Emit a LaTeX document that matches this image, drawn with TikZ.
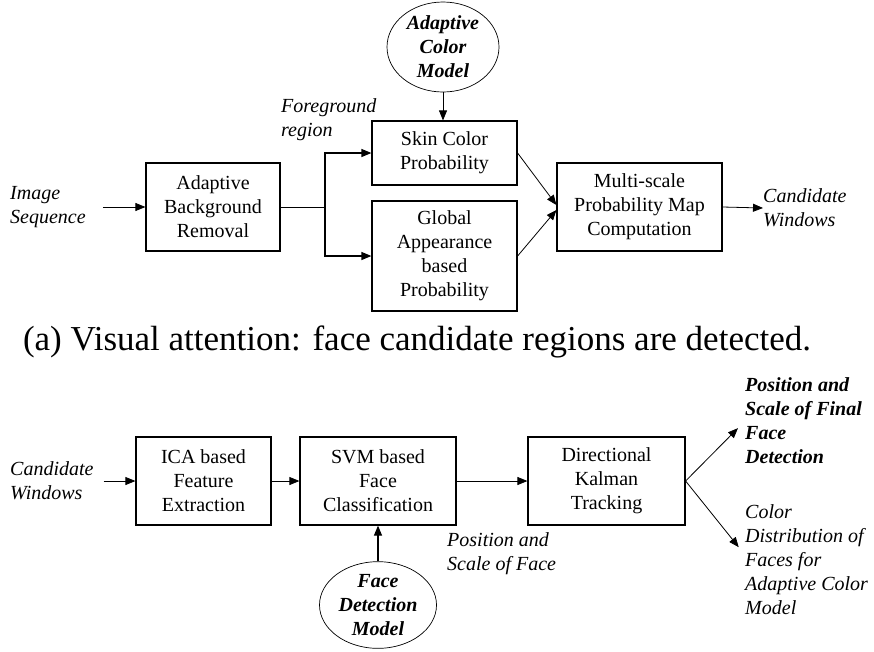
\documentclass[tikz,border=0pt]{standalone}
\usepackage{fontspec}
\setmainfont{Liberation Serif}
\usepackage{tikz}
\usetikzlibrary{arrows.meta}
\usetikzlibrary{positioning}
\usetikzlibrary{shapes.geometric}

\begin{document}
\begin{tikzpicture}[x=1pt, y=-1pt, >={Triangle[length=10pt, width=8pt]},
  font=\fontsize{20}{24}\selectfont,
  block/.style={draw, line width=1.2pt, align=center, inner sep=0pt},
  model/.style={draw, ellipse, line width=0.7pt, align=center, inner sep=0pt,
    font=\fontsize{20}{24}\selectfont\bfseries\itshape},
  lbl/.style={align=left, inner sep=0pt, anchor=west, font=\fontsize{20}{24}\selectfont\itshape},
  arr/.style={->, line width=0.8pt}]

\useasboundingbox (0,0) rectangle (874,651);

% (a) visual attention
\node [block, minimum width=134pt, minimum height=88pt] (bgr) at (213,207) {Adaptive\\Background\\Removal};
\node [block, minimum width=145pt, minimum height=64pt] (skin) at (444.5,153) {Skin Color\\Probability};
\node [block, minimum width=145pt, minimum height=110pt] (glob) at (444.5,256) {Global\\Appearance\\based\\Probability};
\node [block, minimum width=165pt, minimum height=88pt] (msp) at (639.5,207) {Multi-scale\\Probability Map\\Computation};
\node [model, minimum width=112pt, minimum height=90pt] (acm) at (443,47) {Adaptive\\Color\\Model};

\node [lbl] (imgseq) at (10,207) {Image\\Sequence};
\node [lbl] (fgr) at (281,120) {Foreground\\region};
\node [lbl] (cwout) at (763,208) {Candidate\\Windows};
\coordinate (fork) at (325,207);

\draw [arr] ([xshift=17pt]imgseq.east) -- (bgr.west);
\draw [line width=0.8pt] (bgr.east) -- (fork);
\draw [arr, line width=1.2pt] (fork) |- (skin.west);
\draw [arr, line width=1.2pt] (fork) |- (glob.west);
\draw [arr] (acm.south) -- (acm.south |- skin.north);
\draw [arr] (skin.east) -- ([yshift=2pt]msp.west);
\draw [arr] (glob.east) -- ([yshift=-3pt]msp.west);
\draw [arr] (msp.east) -- (cwout.west);

\node [font=\fontsize{35}{40}\selectfont] (capa) at (417,342) {(a) Visual attention: face candidate regions are detected.};

% tracking
\node [block, minimum width=135pt, minimum height=88pt] (ica) at (203.5,481) {ICA based\\Feature\\Extraction};
\node [block, minimum width=156pt, minimum height=88pt] (svm) at (378,481) {SVM based\\Face\\Classification};
\node [block, minimum width=157pt, minimum height=88pt] (dkt) at (606.5,481) {Directional\\Kalman\\Tracking};
\node [model, minimum width=117pt, minimum height=86pt] (fdm) at (378,605) {Face\\Detection\\Model};

\node [lbl] (cwin) at (10,481) {Candidate\\Windows};
\node [lbl] (posf) at (447,554) {Position and\\Scale of Face};
\node [lbl, font=\fontsize{20}{24}\selectfont\bfseries\itshape] (final) at (745,421) {Position and\\Scale of Final\\Face\\Detection};
\node [lbl] (cdist) at (745,560) {Color\\Distribution of\\Faces for\\Adaptive Color\\Model};

\draw [arr] ([xshift=10pt]cwin.east) -- (ica.west);
\draw [arr] (ica) -- (svm);
\draw [arr] (svm) -- (dkt);
\draw [arr, line width=1.2pt] (fdm.north) -- (svm.south);
\draw [arr, shorten >=10pt] (dkt.east) -- (final.west);
\draw [arr, shorten >=10pt] (dkt.east) -- ([yshift=5pt]cdist.west);

\end{tikzpicture}
\end{document}
